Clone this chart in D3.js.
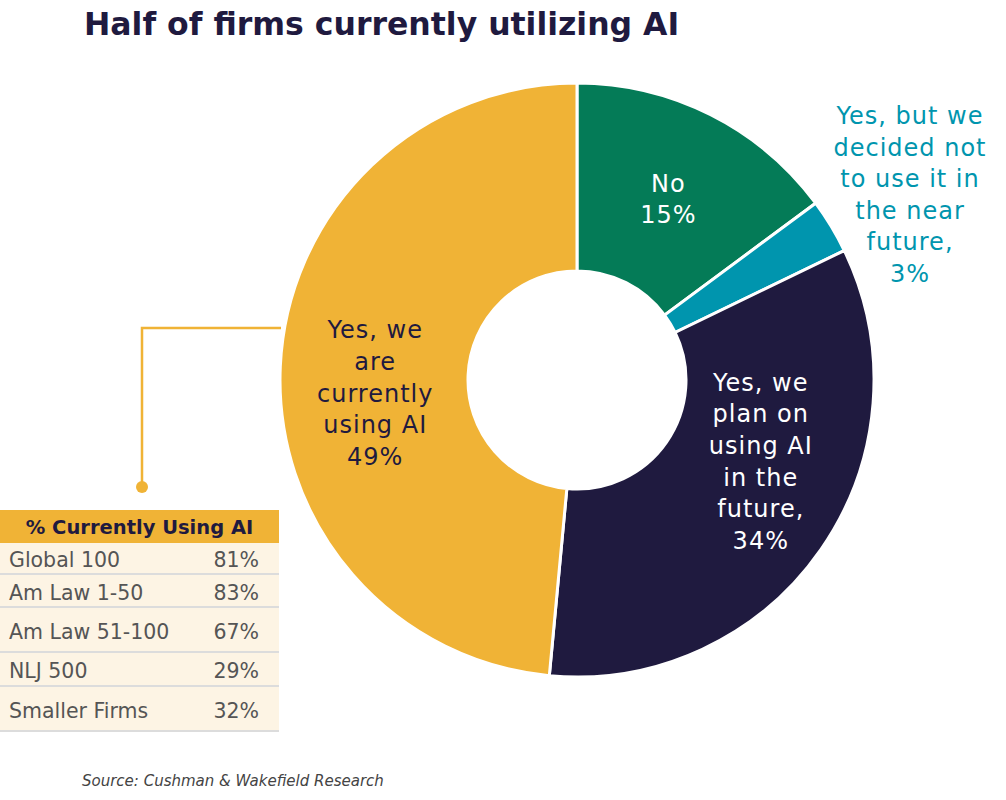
<!DOCTYPE html>
<html>
<head>
<meta charset="utf-8">
<script src="https://cdn.jsdelivr.net/npm/d3@7"></script>
<style>
  body { margin: 0; background: #fff; }
  text { font-family: "DejaVu Sans", sans-serif; }
</style>
</head>
<body>
<div id="chart"></div>
<script>
// donut data, clockwise from 12 o'clock
let sliceKeys = ['no', 'decided', 'plan', 'current'];
let sliceValues = [15, 3, 34, 49];
let sliceLabels = [
  ['No', '15%'],
  ['Yes, but we', 'decided not', 'to use it in', 'the near', 'future,', '3%'],
  ['Yes, we', 'plan on', 'using AI', 'in the', 'future,', '34%'],
  ['Yes, we', 'are', 'currently', 'using AI', '49%']
];

// side table
let tableTitle = '% Currently Using AI';
let tableLabels = ['Global 100', 'Am Law 1-50', 'Am Law 51-100', 'NLJ 500', 'Smaller Firms'];
let tableValues = ['81%', '83%', '67%', '29%', '32%'];

let width = 1006;
let height = 800;

let colors = d3.scaleOrdinal()
  .domain(sliceKeys)
  .range(['#047b57', '#0095ae', '#1f1a3f', '#f0b336']);
let labelColors = d3.scaleOrdinal()
  .domain(sliceKeys)
  .range(['#ffffff', '#0095ae', '#ffffff', '#1f1a3f']);

// label nudges (pixels) relative to the slice centroid
let nudge = {
  no: [0, 1],
  decided: [0, 0],
  plan: [17, -34],
  current: [1, 23]
};

let svg = d3.select('#chart')
  .append('svg')
  .attr('width', width)
  .attr('height', height);

//title
svg.append('text')
  .attr('x', 84)
  .attr('y', 35)
  .attr('fill', '#1f1a3f')
  .style('font-weight', 'bold')
  .style('font-size', '31.5px')
  .text('Half of firms currently utilizing AI');

//donut =================================================
let cx = 577, cy = 380;
let outerR = 297, innerR = 109;

let pie = d3.pie().sort(null).value(d => d.value);
let arcs = pie(sliceKeys.map((k, i) => ({ key: k, value: sliceValues[i], lines: sliceLabels[i] })));

let arc = d3.arc().innerRadius(innerR).outerRadius(outerR);
let labelArc = d3.arc().innerRadius(203).outerRadius(203);

let donut = svg.append('g').attr('transform', `translate(${cx},${cy})`);

donut.selectAll('path')
  .data(arcs)
  .join('path')
  .attr('d', arc)
  .attr('fill', d => colors(d.data.key))
  .attr('stroke', '#fff')
  .attr('stroke-width', 3);

let lineH = 31.6;
let labels = donut.selectAll('text.slice')
  .data(arcs)
  .join('text')
  .attr('class', 'slice')
  .attr('text-anchor', 'middle')
  .attr('fill', d => labelColors(d.data.key))
  .style('font-size', '24px')
  .style('letter-spacing', '1px')
  .attr('transform', d => {
    let p;
    if (d.data.key === 'decided') {
      // small slice: label sits outside the ring
      p = [910 - cx, 195 - cy];
    } else {
      p = labelArc.centroid(d);
      p = [p[0] + nudge[d.data.key][0], p[1] + nudge[d.data.key][1]];
    }
    return `translate(${p[0]},${p[1]})`;
  });

labels.selectAll('tspan')
  .data(d => d.data.lines.map((l, i) => ({ l, i, n: d.data.lines.length })))
  .join('tspan')
  .attr('x', 0)
  .attr('y', d => (d.i - (d.n - 1) / 2) * lineH + 8)
  .text(d => d.l);

//connector from donut to table
let conn = d3.path();
conn.moveTo(281, 328);
conn.lineTo(142, 328);
conn.lineTo(142, 487);
svg.append('path')
  .attr('d', conn.toString())
  .attr('fill', 'none')
  .attr('stroke', '#f0b336')
  .attr('stroke-width', 2.5);
svg.append('circle')
  .attr('cx', 142)
  .attr('cy', 487)
  .attr('r', 6)
  .attr('fill', '#f0b336');

//table =================================================
let tableX = 0, tableW = 279;
let headerTop = 510, headerH = 33;
// the rows in the picture are not all the same height
let rowHeights = [32, 33, 45, 34, 45];
let rowTops = rowHeights.map((h, i) => headerTop + headerH + d3.sum(rowHeights.slice(0, i)));

let table = svg.append('g');

table.append('rect')
  .attr('x', tableX).attr('y', headerTop)
  .attr('width', tableW).attr('height', headerH)
  .attr('fill', '#f0b336');
table.append('text')
  .attr('x', tableX + tableW / 2)
  .attr('y', headerTop + 24)
  .attr('text-anchor', 'middle')
  .attr('fill', '#1f1a3f')
  .style('font-weight', 'bold')
  .style('font-size', '19.5px')
  .text(tableTitle);

let rows = table.selectAll('g.row')
  .data(tableLabels)
  .join('g')
  .attr('class', 'row')
  .attr('transform', (d, i) => `translate(0,${rowTops[i]})`);

rows.append('rect')
  .attr('x', tableX)
  .attr('width', tableW)
  .attr('height', (d, i) => rowHeights[i])
  .attr('fill', '#fdf4e4');
rows.append('line')
  .attr('x1', tableX).attr('x2', tableW)
  .attr('y1', (d, i) => rowHeights[i] - 1).attr('y2', (d, i) => rowHeights[i] - 1)
  .attr('stroke', '#dcdcdc')
  .attr('stroke-width', 2);
rows.append('text')
  .attr('x', 9)
  .attr('y', (d, i) => rowHeights[i] / 2 + 8)
  .attr('fill', '#555')
  .style('font-size', '20.5px')
  .text(d => d);
rows.append('text')
  .attr('x', 259)
  .attr('y', (d, i) => rowHeights[i] / 2 + 8)
  .attr('text-anchor', 'end')
  .attr('fill', '#555')
  .style('font-size', '20.5px')
  .text((d, i) => tableValues[i]);

//source
svg.append('text')
  .attr('x', 82)
  .attr('y', 786)
  .attr('fill', '#444')
  .style('font-style', 'italic')
  .style('font-size', '15px')
  .text('Source: Cushman & Wakefield Research');
</script>
</body>
</html>
